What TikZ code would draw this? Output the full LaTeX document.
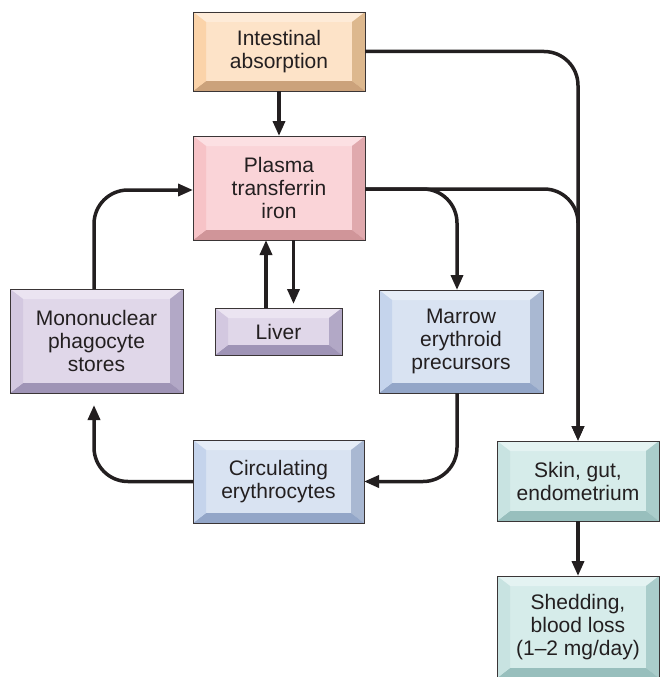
\documentclass[tikz,border=0pt]{standalone}
\usepackage{fontspec}
\setmainfont{Liberation Sans}
\usetikzlibrary{arrows.meta}
\definecolor{txt}{HTML}{231F20}
\definecolor{edge}{HTML}{3A3536}
% peach
\definecolor{pkM}{HTML}{FDE3C8}\definecolor{pkT}{HTML}{FEEBD8}\definecolor{pkL}{HTML}{FBD3A9}\definecolor{pkR}{HTML}{DDB88E}\definecolor{pkB}{HTML}{CBA27B}
% pink
\definecolor{rsM}{HTML}{FAD4D8}\definecolor{rsT}{HTML}{FCE0E3}\definecolor{rsL}{HTML}{F7C3C7}\definecolor{rsR}{HTML}{E0A9AD}\definecolor{rsB}{HTML}{D09599}
% lavender
\definecolor{lvM}{HTML}{E0D7E9}\definecolor{lvT}{HTML}{EBE4F1}\definecolor{lvL}{HTML}{D3C8E0}\definecolor{lvR}{HTML}{B2A8C6}\definecolor{lvB}{HTML}{9F94B6}
% blue
\definecolor{blM}{HTML}{D9E3F2}\definecolor{blT}{HTML}{E6EDF7}\definecolor{blL}{HTML}{C5D4EC}\definecolor{blR}{HTML}{A9B8D2}\definecolor{blB}{HTML}{93A6C8}
% teal
\definecolor{tlM}{HTML}{D6ECEA}\definecolor{tlT}{HTML}{E4F3F2}\definecolor{tlL}{HTML}{C8E3E1}\definecolor{tlR}{HTML}{AACDCB}\definecolor{tlB}{HTML}{98BFBD}
\newcommand{\boxfont}{\fontsize{21}{23}\selectfont}
\newlength{\bvw}\setlength{\bvw}{13pt}
\newlength{\bvh}\setlength{\bvh}{10pt}
\tikzset{
  bev/.style={rectangle, draw=edge, line width=0.8pt, fill=#1M,
    inner sep=0pt, outer sep=0pt, align=center, font=\boxfont, text=txt,
    path picture={
      \fill[#1T] (path picture bounding box.north west) -- (path picture bounding box.north east)
        -- ([xshift=-\bvw,yshift=-\bvh]path picture bounding box.north east)
        -- ([xshift=\bvw,yshift=-\bvh]path picture bounding box.north west) -- cycle;
      \fill[#1R] (path picture bounding box.north east) -- (path picture bounding box.south east)
        -- ([xshift=-\bvw,yshift=\bvh]path picture bounding box.south east)
        -- ([xshift=-\bvw,yshift=-\bvh]path picture bounding box.north east) -- cycle;
      \fill[#1B] (path picture bounding box.south east) -- (path picture bounding box.south west)
        -- ([xshift=\bvw,yshift=\bvh]path picture bounding box.south west)
        -- ([xshift=-\bvw,yshift=\bvh]path picture bounding box.south east) -- cycle;
      \fill[#1L] (path picture bounding box.south west) -- (path picture bounding box.north west)
        -- ([xshift=\bvw,yshift=-\bvh]path picture bounding box.north west)
        -- ([xshift=\bvw,yshift=\bvh]path picture bounding box.south west) -- cycle;
    }},
  conn/.style={draw=txt, line width=3.5pt, rounded corners=34pt},
  arr/.style={conn, -{Triangle[length=15pt,width=12pt]}},
}
\begin{document}
\begin{tikzpicture}[x=1pt,y=-1pt]
\useasboundingbox (0,0) rectangle (660,677);
% boxes
\node[bev=pk, minimum width=172pt, minimum height=79pt] (A) at (279,51.5) {Intestinal\\absorption};
\node[bev=rs, minimum width=172pt, minimum height=104pt] (P) at (279,188) {Plasma\\transferrin\\iron};
\node[bev=lv, minimum width=173pt, minimum height=104pt] (M) at (96.5,341) {Mononuclear\\phagocyte\\stores};
\node[bev=lv, minimum width=127pt, minimum height=47pt] (L) at (278.5,331.5) {Liver};
\node[bev=bl, minimum width=164pt, minimum height=103pt] (R) at (461,341.5) {Marrow\\erythroid\\precursors};
\node[bev=bl, minimum width=171pt, minimum height=83pt] (C) at (278.5,481.5) {Circulating\\erythrocytes};
\node[bev=tl, minimum width=162pt, minimum height=80pt] (S) at (578,481) {Skin, gut,\\endometrium};
\node[bev=tl, minimum width=162pt, minimum height=102pt] (H) at (578,627) {Shedding,\\blood loss\\(1--2 mg/day)};
% helper points
\coordinate (Rin) at ([xshift=-4pt]R.north);
\coordinate (Rout) at ([xshift=-4pt]R.south);
\coordinate (Mout) at ([xshift=-2.5pt]M.north);
\coordinate (Min) at ([xshift=-2.5pt]M.south);
\coordinate (Lup) at ([xshift=-12.5pt]L.north);
\coordinate (Ldn) at ([xshift=14.5pt]P.south);
% connectors
\draw[arr] (A.south) -- (P.north);
\draw[arr] (A.east) -| (S.north);
\draw[arr] ([yshift=-1pt]P.east) -| (S.north);
\draw[arr] ([yshift=-1pt]P.east) -| (Rin);
\draw[arr] (Rout) |- (C.east);
\draw[arr, shorten >=12pt] (C.west) -| (Min);
\draw[arr] (Mout) |- ([yshift=-2pt]P.west);
\draw[arr] (Lup) -- (Lup |- P.south);
\draw[arr, shorten >=4pt] (Ldn) -- (Ldn |- L.north);
\draw[arr] (S.south) -- (H.north);
\end{tikzpicture}
\end{document}
